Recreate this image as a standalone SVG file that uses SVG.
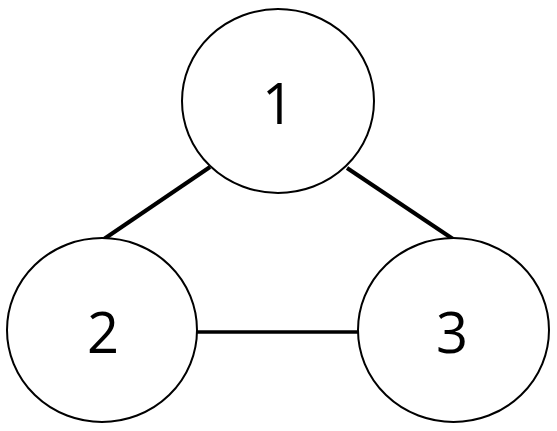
<svg xmlns="http://www.w3.org/2000/svg" width="557" height="431" viewBox="0 0 557 431">
<style>
.node ellipse{fill:#fff;stroke:#000;stroke-width:2}
.node text{font-family:"Open Sans","Liberation Sans",sans-serif;font-size:56px;fill:#000;text-anchor:middle}
.edge{stroke:#000;stroke-width:4;stroke-linecap:butt}
</style>
<rect width="557" height="431" fill="#fff"/>
<g id="connectors">
<line class="edge" x1="210" y1="167" x2="104" y2="239"/>
<line class="edge" x1="347" y1="168" x2="453" y2="239"/>
<line class="edge" x1="197" y1="332" x2="358" y2="332" style="stroke-width:3.5"/>
</g>
<g id="node1" class="node">
<ellipse cx="278" cy="101" rx="96" ry="92"/>
<text x="278" y="124">1</text>
</g>
<g id="node2" class="node">
<ellipse cx="102" cy="330" rx="95" ry="92"/>
<text x="103" y="353">2</text>
</g>
<g id="node3" class="node">
<ellipse cx="453.5" cy="330" rx="95.5" ry="92"/>
<text x="452" y="353">3</text>
</g>
</svg>
